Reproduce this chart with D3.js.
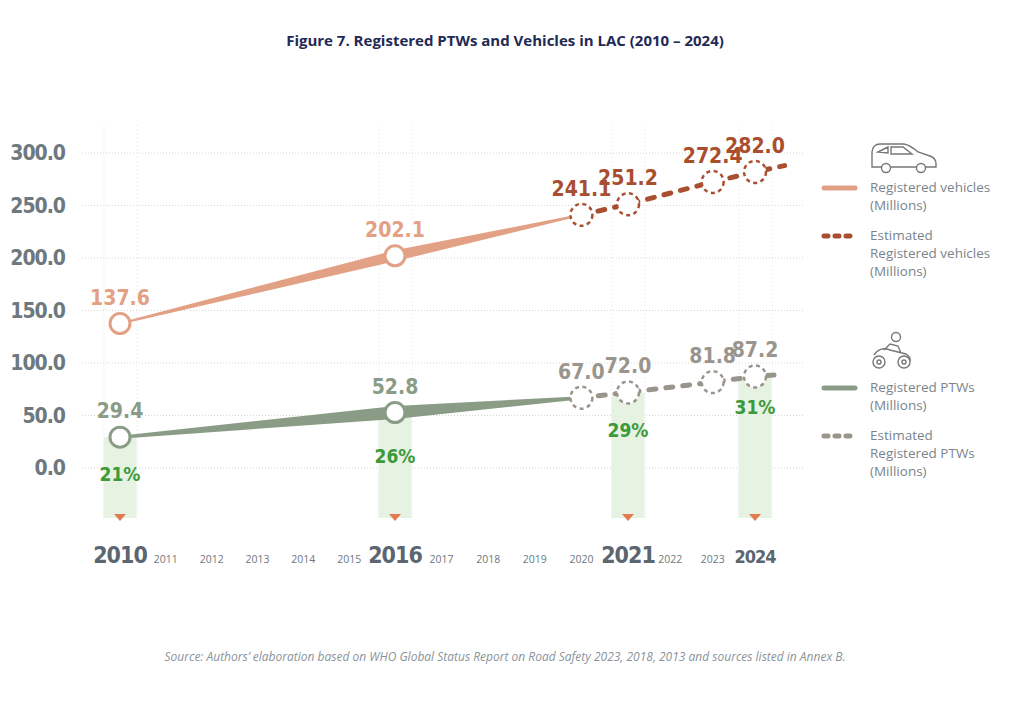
<!DOCTYPE html>
<html><head><meta charset="utf-8">
<script src="https://cdn.jsdelivr.net/npm/d3@7"></script>
<style>body{margin:0;background:#fff}</style></head>
<body><svg id="c" width="1024" height="704"></svg>
<script>
const yTicks=[0,50,100,150,200,250,300];
const minorYears=[2011,2012,2013,2014,2015,2017,2018,2019,2020,2022,2023];
const majorYears=[2010,2016,2021,2024];
const vehYears=[2010,2016,2020];
const vehValues=[137.6,202.1,241.1];
const vehEstYears=[2020,2021,2023,2024];
const vehEstValues=[241.1,251.2,272.4,282.0];
const ptwYears=[2010,2016,2020];
const ptwValues=[29.4,52.8,67.0];
const ptwEstYears=[2020,2021,2023,2024];
const ptwEstValues=[67.0,72.0,81.8,87.2];
const shareYears=[2010,2016,2021,2024];
const shareValues=[29.4,52.8,72.0,87.2];
const shareLabels=["21%","26%","29%","31%"];

const svg=d3.select("#c");
const x=d3.scaleLinear().domain([2010,2016,2021,2024]).range([120,395,628,755]);
const y=d3.scaleLinear().domain([0,300]).range([468,153]);
const cond="'Liberation Sans Narrow','DejaVu Sans Condensed',sans-serif";
const C={veh:"#e2a184",vehEst:"#a94e2f",ptw:"#8a9c86",ptwEst:"#9a958c",axis:"#6e7880",green:"#3d9a3b",bar:"#e6f2e2"};

svg.append("text").attr("x",505).attr("y",46).attr("text-anchor","middle")
 .attr("font-family","'Open Sans',sans-serif").attr("font-weight",700).attr("font-size",15).attr("fill","#1f2a55")
 .text("Figure 7. Registered PTWs and Vehicles in LAC (2010 – 2024)");

svg.append("g").selectAll("line").data(yTicks).join("line")
 .attr("x1",82).attr("x2",805).attr("y1",d=>y(d)).attr("y2",d=>y(d))
 .attr("stroke","#d6d6d6").attr("stroke-dasharray","1,2");
svg.append("g").selectAll("line").data(majorYears).join("line")
 .attr("x1",d=>x(d)-16).attr("x2",d=>x(d)-16).attr("y1",125).attr("y2",518)
 .attr("stroke","#e4e4e4").attr("stroke-dasharray","1,3");
svg.append("g").selectAll("line").data(majorYears).join("line")
 .attr("x1",d=>x(d)+17).attr("x2",d=>x(d)+17).attr("y1",125).attr("y2",518)
 .attr("stroke","#e4e4e4").attr("stroke-dasharray","1,3");

const yAxis=d3.axisLeft(y).tickValues(yTicks).tickFormat(d3.format(".1f")).tickSize(0);
const ya=svg.append("g").attr("transform","translate(68,0)").call(yAxis);
ya.select(".domain").remove();
ya.selectAll("text").attr("font-family","'DejaVu Sans Condensed',sans-serif").attr("font-weight",700).attr("font-size",21).attr("fill",C.axis).attr("letter-spacing",-1);

const bw=33;
shareYears.forEach((yr,i)=>{
 svg.append("rect").attr("x",x(yr)-bw/2).attr("y",y(shareValues[i])).attr("width",bw).attr("height",518-y(shareValues[i])).attr("fill",C.bar);
 const cx=x(yr);
 svg.append("path").attr("d",`M${cx-6},514L${cx+6},514L${cx},521Z`).attr("fill","#e07a4f");
 svg.append("text").attr("x",cx).attr("y",y(shareValues[i])+(i==0?44:i==1?50:i==2?45:38)).attr("text-anchor","middle")
  .attr("font-family",cond).attr("font-weight",700).attr("font-size",19).attr("fill",C.green).text(shareLabels[i]);
});

const xa=svg.append("g");
xa.selectAll("text.mi").data(minorYears).join("text").attr("x",d=>x(d)).attr("y",563).attr("text-anchor","middle")
 .attr("font-family","'Open Sans',sans-serif").attr("font-size",10.5).attr("fill","#6e7880").text(d=>d);
xa.selectAll("text.ma").data(majorYears).join("text").attr("x",d=>x(d)).attr("y",563).attr("text-anchor","middle")
 .attr("font-family","'DejaVu Sans Condensed',sans-serif").attr("font-weight",700).attr("font-size",d=>d==2024?18:23).attr("fill","#5b6670").attr("letter-spacing",-1).text(d=>d);

function taper(years,vals,widths,color){
 const pts=years.map((yr,i)=>({x:x(yr),y:y(vals[i]),w:widths[i]}));
 const top=pts.map(p=>[p.x,p.y-p.w/2]), bot=pts.map(p=>[p.x,p.y+p.w/2]).reverse();
 svg.append("path").attr("d",d3.line()(top.concat(bot))+"Z").attr("fill",color);
}
taper(vehYears,vehValues,[2,11,2],C.veh);
taper(ptwYears,ptwValues,[3,13,3],C.ptw);

const line=d3.line().x(d=>x(d[0])).y(d=>y(d[1]));
function est(years,vals,color,ext){
 const d=years.map((yr,i)=>[yr,vals[i]]);
 d.push(ext);
 svg.append("path").attr("d",line(d)).attr("fill","none").attr("stroke",color).attr("stroke-width",5)
  .attr("stroke-linecap","round").attr("stroke-dasharray","7,10");
 svg.append("g").selectAll("circle").data(d.slice(0,-1)).join("circle").attr("cx",p=>x(p[0])).attr("cy",p=>y(p[1])).attr("r",11)
  .attr("fill","#fff").attr("stroke",color).attr("stroke-width",2.5).attr("stroke-dasharray","4,3.5");
}
est(vehEstYears,vehEstValues,C.vehEst,[2024.7,288]);
est(ptwEstYears,ptwEstValues,C.ptwEst,[2024.6,89]);

[[vehYears.slice(0,2),vehValues.slice(0,2),C.veh],[ptwYears.slice(0,2),ptwValues.slice(0,2),C.ptw]].forEach(([ys,vs,c])=>{
 svg.append("g").selectAll("circle").data(ys).join("circle").attr("cx",d=>x(d)).attr("cy",(d,i)=>y(vs[i])).attr("r",10)
  .attr("fill","#fff").attr("stroke",c).attr("stroke-width",3);
});

function labels(ys,vs,color){
 svg.append("g").selectAll("text").data(ys).join("text").attr("x",d=>x(d)).attr("y",(d,i)=>y(vs[i])-19).attr("text-anchor","middle")
  .attr("font-family",cond).attr("font-weight",700).attr("font-size",21).attr("fill",color).text((d,i)=>vs[i].toFixed(1));
}
labels(vehYears.slice(0,2),vehValues.slice(0,2),C.veh);
labels(ptwYears.slice(0,2),ptwValues.slice(0,2),C.ptw);
labels(vehEstYears,vehEstValues,C.vehEst);
labels(ptwEstYears,ptwEstValues,C.ptwEst);

const lg=svg.append("g").attr("font-family","'Open Sans',sans-serif").attr("font-size",13.5).attr("fill","#7a848c");
function ltext(yy,lines){const t=lg.append("text").attr("x",870).attr("y",yy).attr("fill","#7a848c");
 lines.forEach((s,i)=>t.append("tspan").attr("x",870).attr("dy",i?18:0).text(s));}
lg.append("line").attr("x1",824).attr("x2",855).attr("y1",188).attr("y2",188).attr("stroke",C.veh).attr("stroke-width",5).attr("stroke-linecap","round");
ltext(192,["Registered vehicles","(Millions)"]);
lg.append("line").attr("x1",824).attr("x2",855).attr("y1",236).attr("y2",236).attr("stroke",C.vehEst).attr("stroke-width",5).attr("stroke-linecap","round").attr("stroke-dasharray","4,7");
ltext(240,["Estimated","Registered vehicles","(Millions)"]);
lg.append("line").attr("x1",824).attr("x2",855).attr("y1",388).attr("y2",388).attr("stroke",C.ptw).attr("stroke-width",5).attr("stroke-linecap","round");
ltext(392,["Registered PTWs","(Millions)"]);
lg.append("line").attr("x1",824).attr("x2",855).attr("y1",436).attr("y2",436).attr("stroke",C.ptwEst).attr("stroke-width",5).attr("stroke-linecap","round").attr("stroke-dasharray","4,7");
ltext(440,["Estimated","Registered PTWs","(Millions)"]);

const ic=svg.append("g").attr("fill","none").attr("stroke","#777").attr("stroke-width",1.4);
ic.append("path").attr("d","M872,167 L872,152 Q873,144 880,144 L904,144 Q910,145 918,152 L930,156 Q936,158 936,164 L936,167 Z");
ic.append("path").attr("d","M878,152 L888,147 L888,153 Z M891,147 L903,147 L912,154 L891,154 Z");
ic.append("circle").attr("cx",886).attr("cy",168).attr("r",4.5).attr("fill","#fff");
ic.append("circle").attr("cx",921).attr("cy",168).attr("r",4.5).attr("fill","#fff");
ic.append("circle").attr("cx",879).attr("cy",362).attr("r",6);
ic.append("circle").attr("cx",904).attr("cy",362).attr("r",6);
ic.append("circle").attr("cx",879).attr("cy",362).attr("r",2);
ic.append("circle").attr("cx",904).attr("cy",362).attr("r",2);
ic.append("path").attr("d","M874,355 Q880,346 890,350 L898,352 L906,354 Q911,357 910,361 M884,350 L890,344 L898,346 L901,353");
ic.append("circle").attr("cx",896).attr("cy",337).attr("r",4.5);

svg.append("text").attr("x",505).attr("y",661).attr("text-anchor","middle")
 .attr("font-family","'Open Sans',sans-serif").attr("font-style","italic").attr("font-size",12).attr("fill","#8a939a")
 .text("Source: Authors’ elaboration based on WHO Global Status Report on Road Safety 2023, 2018, 2013 and sources listed in Annex B.");
</script></body></html>
